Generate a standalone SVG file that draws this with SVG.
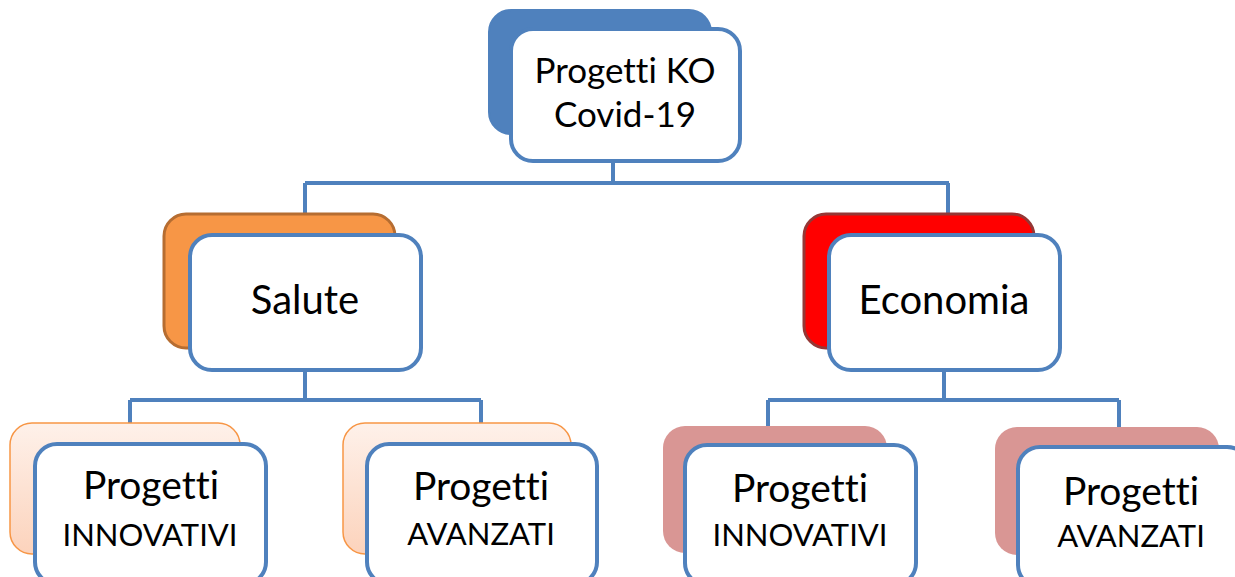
<svg xmlns="http://www.w3.org/2000/svg" width="1235" height="577" viewBox="0 0 1235 577">
<defs>
<linearGradient id="peach" x1="0" y1="0" x2="0" y2="1">
<stop offset="0" stop-color="#FEF1EA"/>
<stop offset="1" stop-color="#FCD3BC"/>
</linearGradient>
<style>
.front{fill:#FFFFFF;stroke:#4F81BD;stroke-width:4}
.conn{fill:none;stroke:#4F81BD;stroke-width:4}
.t{font-family:Lato,"Liberation Sans",sans-serif;fill:#000;text-anchor:middle;font-variant-ligatures:none}
</style>
</defs>
<rect width="1235" height="577" fill="#FFFFFF"/>
<g id="connectors">
<path class="conn" d="M613,163 V183 M305,183 H949 M305,183 V213 M948,183 V213"/>
<path class="conn" d="M305,372 V400 M130,400 H481 M130,400 V425 M481,400 V424"/>
<path class="conn" d="M944,372 V400 M768,400 H1119 M768,400 V427 M1119,400 V427"/>
</g>
<g id="node-root">
<rect x="489" y="10" width="222" height="124" rx="22" fill="#4F81BD" stroke="#4F81BD" stroke-width="2"/>
<rect class="front" x="511" y="29" width="229" height="132" rx="22"/>
<text class="t" x="625" y="83" font-size="35">Progetti KO</text>
<text class="t" x="625" y="127" font-size="35">Covid-19</text>
</g>
<g id="node-salute">
<rect x="164" y="214" width="231" height="134" rx="22" fill="#F79646" stroke="#B66D31" stroke-width="3"/>
<rect class="front" x="190" y="235" width="231" height="135" rx="22"/>
<text class="t" x="305" y="314" font-size="40">Salute</text>
</g>
<g id="node-economia">
<rect x="804" y="214" width="230" height="134" rx="22" fill="#FF0000" stroke="#953735" stroke-width="3"/>
<rect class="front" x="829" y="235" width="231" height="135" rx="22"/>
<text class="t" x="944" y="314" font-size="40">Economia</text>
</g>
<g id="node-salute-innovativi">
<rect x="10" y="423" width="230" height="131" rx="22" fill="url(#peach)" stroke="#F79646" stroke-width="1.5"/>
<rect class="front" x="35" y="444" width="231" height="140" rx="22"/>
<text class="t" x="151" y="499" font-size="39">Progetti</text>
<text class="t" x="150" y="546" font-size="31">INNOVATIVI</text>
</g>
<g id="node-salute-avanzati">
<rect x="343" y="423" width="228" height="131" rx="22" fill="url(#peach)" stroke="#F79646" stroke-width="1.5"/>
<rect class="front" x="367" y="444" width="230" height="140" rx="22"/>
<text class="t" x="481" y="500" font-size="39">Progetti</text>
<text class="t" x="481" y="545" font-size="31">AVANZATI</text>
</g>
<g id="node-economia-innovativi">
<rect x="663" y="426" width="224" height="127" rx="22" fill="#D99694"/>
<rect class="front" x="685" y="445" width="231" height="140" rx="22"/>
<text class="t" x="800" y="502" font-size="39">Progetti</text>
<text class="t" x="800" y="546" font-size="31">INNOVATIVI</text>
</g>
<g id="node-economia-avanzati">
<rect x="995" y="427" width="224" height="128" rx="22" fill="#D99694"/>
<rect class="front" x="1018" y="447" width="231" height="140" rx="22"/>
<text class="t" x="1131" y="505" font-size="39">Progetti</text>
<text class="t" x="1131" y="547" font-size="31">AVANZATI</text>
</g>
</svg>
